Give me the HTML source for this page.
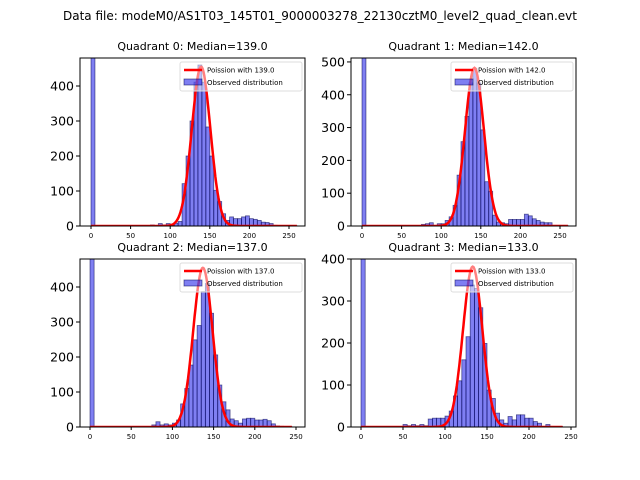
<!DOCTYPE html>
<html><head><meta charset="utf-8"><style>
html,body{margin:0;padding:0;background:#fff;}
svg{display:block;font-family:"DejaVu Sans","Liberation Sans",sans-serif;}
</style></head><body>
<svg id="fig" width="640" height="480" viewBox="0 0 640 480" xmlns="http://www.w3.org/2000/svg">
<rect width="640" height="480" fill="#fff"/>
<text x="320" y="20" text-anchor="middle" font-size="12">Data file: modeM0/AS1T03_145T01_9000003278_22130cztM0_level2_quad_clean.evt</text>
</svg>
<script>
const binStart = 5; // bins every 5 counts
const q0Bins = [0,75,80,85,90,95,100,105,110,115,120,125,130,135,140,145,150,155,160,165,170,175,180,185,190,195,200,205,210,215,220,225,230,235,240,245,250,255];
const q0Counts = [2000,3,0,7,3,7,3,8,13,121,200,300,411,460,411,283,200,102,70,35,16,26,21,21,26,29,21,19,16,11,10,7,2,1,1,1,1,1];
const q1Bins = [0,75,80,85,90,95,100,105,110,115,120,125,130,135,140,145,150,155,160,165,170,175,180,185,190,195,200,205,210,215,220,225,230,235,240,245,250,255];
const q1Counts = [2000,5,7,10,2,7,7,17,28,63,155,257,334,436,480,436,293,135,106,33,12,10,7,20,20,20,20,36,31,22,17,12,10,10,2,2,2,2];
const q2Bins = [0,75,80,85,90,95,100,105,110,115,120,125,130,135,140,145,150,155,160,165,170,175,180,185,190,195,200,205,210,215,220,225,230,235,240];
const q2Counts = [2000,6,15,6,9,6,11,20,66,110,177,249,290,387,410,325,206,120,72,49,23,18,11,23,25,25,20,20,22,18,9,3,2,1,1];
const q3Bins = [0,50,55,60,65,70,75,80,85,90,95,100,105,110,115,120,125,130,135,140,145,150,155,160,165,170,175,180,185,190,195,200,205,210,215,220,225,230,235];
const q3Counts = [2000,6,3,6,3,6,3,19,21,21,21,26,38,74,110,160,215,338,330,284,199,88,68,33,17,9,25,17,29,29,21,21,13,9,1,6,1,1,1];
const medians = [139.0,142.0,137.0,133.0];
const peaks = [455,482,455,382];
const curveEnd = [260,260,245,240];
const xTicks = [0,50,100,150,200,250];
const yTicksA = [0,100,200,300,400];
const yTicksB = [0,100,200,300,400,500];

const panels = [
 {bins:q0Bins,counts:q0Counts,L:80,T:58,W:225,H:168,x0:91,xs:0.792,ymax:480,yt:yTicksA},
 {bins:q1Bins,counts:q1Counts,L:351,T:58,W:225,H:168,x0:362,xs:0.792,ymax:512,yt:yTicksB},
 {bins:q2Bins,counts:q2Counts,L:80,T:259,W:225,H:168,x0:90,xs:0.824,ymax:480,yt:yTicksA},
 {bins:q3Bins,counts:q3Counts,L:351,T:259,W:225,H:168,x0:361,xs:0.84,ymax:400,yt:yTicksA}
];
const NS="http://www.w3.org/2000/svg";
const svg=document.getElementById('fig');
function mk(tag,attrs,parent){const e=document.createElementNS(NS,tag);for(const k in attrs)e.setAttribute(k,attrs[k]);(parent||svg).appendChild(e);return e;}
panels.forEach((p,i)=>{
 const g=mk('g',{});
 
 
 const xf=v=>p.x0+v*p.xs;
 const yf=v=>p.T+p.H-Math.min(v,p.ymax*1.05)*p.H/p.ymax;
 const title=mk('text',{x:p.L+p.W/2,y:p.T-8,'text-anchor':'middle','font-size':'11'},g);
 title.textContent='Quadrant '+i+': Median='+medians[i].toFixed(1);
 
 
 const cp=mk('clipPath',{id:'cp'+i},g);mk('rect',{x:p.L,y:p.T,width:p.W,height:p.H},cp);
 const bg=mk('g',{'clip-path':'url(#cp'+i+')'},g);
 p.bins.forEach((b,j)=>{
  const r=mk('rect',{x:xf(b),y:yf(p.counts[j]),width:binStart*p.xs,height:p.T+p.H-yf(p.counts[j]),fill:'rgba(0,0,230,0.5)',stroke:'rgba(0,0,80,0.6)','stroke-width':'0.8'},bg);
  
  
 });
 const m=medians[i],sd=Math.sqrt(m);let d='';
 for(let v=0;v<=curveEnd[i];v+=1){const y=peaks[i]*Math.exp(-0.5*((v-m)/sd)**2);d+=(v?'L':'M')+xf(v).toFixed(1)+','+yf(y).toFixed(1);}
 const c=mk('path',{d:d,fill:'none',stroke:'#f00','stroke-width':'2.5'},bg);
 
 
 mk('rect',{x:p.L,y:p.T,width:p.W,height:p.H,fill:'none',stroke:'#000','stroke-width':'1'},g);
 xTicks.forEach(t=>{const x=xf(t);if(x>p.L+p.W)return;mk('line',{x1:x,x2:x,y1:p.T+p.H,y2:p.T+p.H+3,stroke:'#000'},g);
  const tx=mk('text',{x:x,y:p.T+p.H+12,'text-anchor':'middle','font-size':'7'},g);tx.textContent=t;
  });
 p.yt.forEach(t=>{const y=yf(t);mk('line',{x1:p.L-4,x2:p.L,y1:y,y2:y,stroke:'#000'},g);
  const tx=mk('text',{x:p.L-6,y:y+4.5,'text-anchor':'end','font-size':'12.5'},g);tx.textContent=t;
  });
 const lg=mk('g',{},g);
 
 
 const lx=p.L+p.W-125,ly=p.T+4;
 mk('rect',{x:lx,y:ly,width:122,height:29,fill:'rgba(255,255,255,0.5)',stroke:'#ddd',rx:2},lg);
 mk('line',{x1:lx+4,x2:lx+22,y1:ly+8,y2:ly+8,stroke:'#f00','stroke-width':'2.5'},lg);
 const t1=mk('text',{x:lx+27,y:ly+10.5,'font-size':'7'},lg);t1.textContent='Poission with '+m.toFixed(1);
 
 mk('rect',{x:lx+4,y:ly+17,width:18,height:6,fill:'rgba(0,0,230,0.5)',stroke:'rgba(0,0,80,0.6)','stroke-width':'0.8'},lg);
 const t2=mk('text',{x:lx+27,y:ly+23,'font-size':'7'},lg);t2.textContent='Observed distribution';
 
});
</script>
</body></html>
